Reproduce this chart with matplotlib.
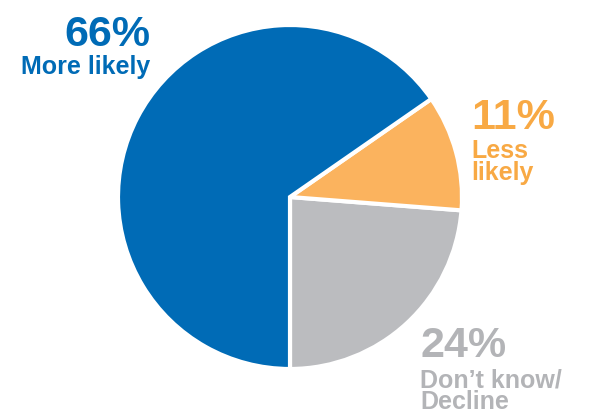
import matplotlib.pyplot as plt

labels = ["Don\u2019t know/\nDecline", "Less\nlikely", "More likely"]
pcts = ["24%", "11%", "66%"]
values = [24, 11, 66]
colors = ["#BBBCBF", "#FBB35E", "#006BB6"]
text_colors = ["#B3B4B7", "#F8A944", "#006BB6"]

W, H = 590, 413
fig = plt.figure(figsize=(W / 100, H / 100), dpi=100)
plt.rcParams['font.family'] = ['Liberation Sans', 'DejaVu Sans']

# pie centre (290, 197), radius 172 px
cx, cy, r = 290, 197, 172
ax = fig.add_axes([(cx - r) / W, (H - cy - r) / H, 2 * r / W, 2 * r / H])
ax.pie(values, colors=colors, startangle=-90, counterclock=True,
       wedgeprops=dict(edgecolor="white", linewidth=3))
ax.set_xlim(-1, 1)
ax.set_ylim(-1, 1)
ax.set_aspect("equal")
ax.axis("off")

def px(x, y):
    return x / W, 1 - y / H

# 66% More likely (right aligned)
fig.text(*px(150, 46), pcts[2], color=text_colors[2], fontsize=31,
         fontweight="bold", ha="right", va="baseline")
fig.text(*px(150, 74), labels[2], color=text_colors[2], fontsize=18,
         fontweight="bold", ha="right", va="baseline")

# 11% Less likely
fig.text(*px(471, 129), pcts[1], color=text_colors[1], fontsize=31,
         fontweight="bold", ha="left", va="baseline")
fig.text(*px(471, 180), labels[1], color=text_colors[1], fontsize=18,
         fontweight="bold", ha="left", va="baseline", linespacing=0.88)

# 24% Don't know / Decline
fig.text(*px(420, 357), pcts[0], color=text_colors[0], fontsize=31,
         fontweight="bold", ha="left", va="baseline")
fig.text(*px(420, 409), labels[0], color=text_colors[0], fontsize=18,
         fontweight="bold", ha="left", va="baseline", linespacing=0.88)

fig.savefig("out.png", dpi=100)
